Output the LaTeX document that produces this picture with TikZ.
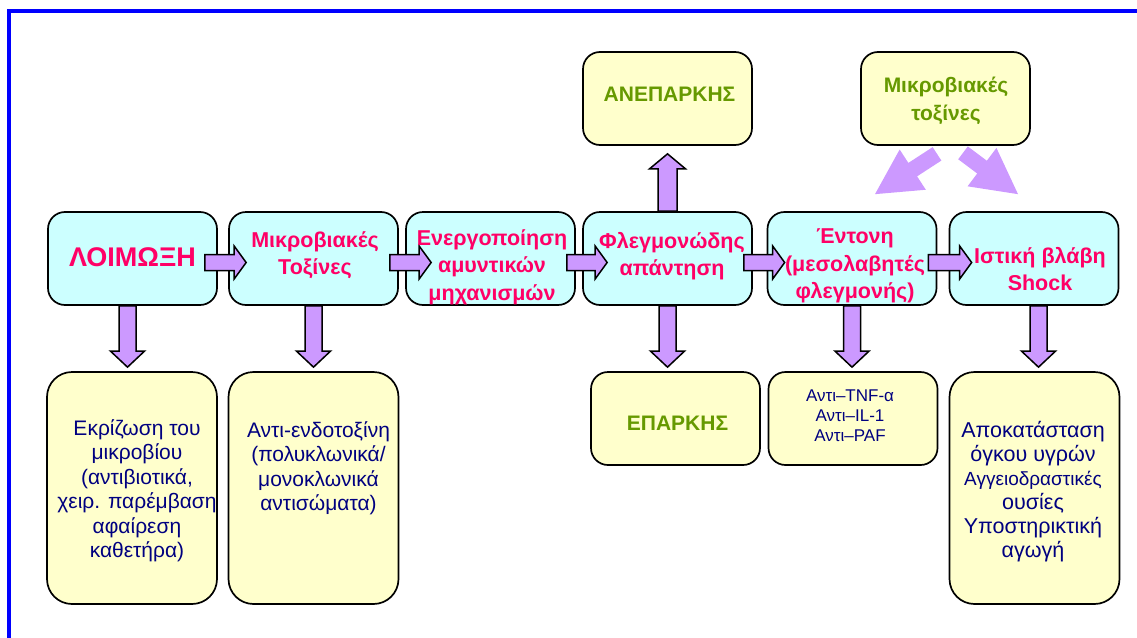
\documentclass[tikz,border=0pt]{standalone}
\usepackage{fontspec}
\setmainfont{Liberation Sans}
\usetikzlibrary{calc}
\definecolor{cyanf}{HTML}{CCFFFF}
\definecolor{yelf}{HTML}{FFFFCC}
\definecolor{pinkt}{HTML}{FF0066}
\definecolor{greent}{HTML}{669900}
\definecolor{navyt}{HTML}{000080}
\definecolor{arrf}{HTML}{CC99FF}
\definecolor{bord}{HTML}{0000FF}
% block arrow: #1 style, #2 start, #3 tip, #4 half shaft, #5 half head, #6 head length
\newcommand{\blockarrow}[6]{%
  \coordinate (bah) at ($(#3)!#6!(#2)$);
  \path[#1] ($(#2)!#4!90:(#3)$) -- ($(bah)!#4!90:(#3)$) -- ($(bah)!#5!90:(#3)$) -- (#3)
    -- ($(bah)!#5!-90:(#3)$) -- ($(bah)!#4!-90:(#3)$) -- ($(#2)!#4!-90:(#3)$) -- cycle;
}
\tikzset{
  box/.style={draw=black, line width=1.7pt, inner sep=0pt},
  cbox/.style={box, fill=cyanf, rounded corners=17pt, minimum width=169pt, minimum height=93pt},
  ybox/.style={box, fill=yelf, rounded corners=17pt, minimum width=169pt, minimum height=93pt},
  tallbox/.style={box, fill=yelf, rounded corners=25pt, minimum width=170pt, minimum height=232pt},
  pinktxt/.style={text=pinkt, align=center, inner sep=0pt, font=\fontsize{21.5}{27.5}\selectfont\bfseries},
  greentxt/.style={text=greent, align=center, inner sep=0pt, font=\fontsize{21}{28}\selectfont\bfseries},
  navytxt/.style={text=navyt, align=center, inner sep=0pt, font=\fontsize{21}{24.5}\selectfont},
  arrout/.style={draw=black, line width=1.5pt, fill=arrf, line join=miter},
  arrplain/.style={fill=arrf}
}
\begin{document}
\begin{tikzpicture}[x=1pt, y=-1pt]
\useasboundingbox (0,0) rectangle (1137,637);
% frame
\draw[bord, line width=4pt] (8.7,640) -- (8.7,10.5) -- (1140,10.5);

% top row (cyan)
\node[cbox] (b1) at (132.5,258.5) {};
\node[cbox] (b2) at (313.5,258.5) {};
\node[cbox] (b3) at (490.5,258.5) {};
\node[cbox] (b4) at (667.5,258.5) {};
\node[cbox] (b5) at (852,258.5) {};
\node[cbox] (b6) at (1034,258.5) {};
% upper yellow
\node[ybox] (an) at (667.5,98.5) {};
\node[ybox] (mt) at (945.5,98.5) {};
% lower yellow
\node[tallbox] (c1) at (132,488) {};
\node[tallbox] (c2) at (313.5,488) {};
\node[ybox] (c4) at (675.5,418.5) {};
\node[ybox] (c5) at (853,418.5) {};
\node[tallbox] (c6) at (1034.5,488) {};

% horizontal arrows
\coordinate (h1s) at ($(b1.east)+(-13pt,-4pt)$);
\coordinate (h1e) at ($(b2.west)+(18pt,-4pt)$);
\coordinate (h2s) at ($(b2.east)+(-9pt,-4pt)$);
\coordinate (h2e) at ($(b3.west)+(26pt,-4pt)$);
\coordinate (h3s) at ($(b3.east)+(-9pt,-4pt)$);
\coordinate (h3e) at ($(b4.west)+(25pt,-4pt)$);
\coordinate (h4s) at ($(b4.east)+(-9pt,-4pt)$);
\coordinate (h4e) at ($(b5.west)+(18pt,-4pt)$);
\coordinate (h5s) at ($(b5.east)+(-9pt,-4pt)$);
\coordinate (h5e) at ($(b6.west)+(23pt,-4pt)$);
\blockarrow{arrout}{h1s}{h1e}{8pt}{16.5pt}{12pt}
\blockarrow{arrout}{h2s}{h2e}{8pt}{16.5pt}{12pt}
\blockarrow{arrout}{h3s}{h3e}{8pt}{16.5pt}{12pt}
\blockarrow{arrout}{h4s}{h4e}{8pt}{16.5pt}{12pt}
\blockarrow{arrout}{h5s}{h5e}{8pt}{16.5pt}{12pt}

% down arrows
\coordinate (v1s) at ($(b1.south)+(-5pt,0pt)$);
\coordinate (v1e) at ($(b1.south |- c1.north)+(-5pt,4pt)$);
\coordinate (v2e) at ($(b2.south |- c2.north)+(0pt,4pt)$);
\coordinate (v4e) at ($(b4.south |- c4.north)+(0pt,4pt)$);
\coordinate (v5e) at ($(b5.south |- c5.north)+(0pt,4pt)$);
\coordinate (v6s) at ($(b6.south)+(4.5pt,0pt)$);
\coordinate (v6e) at ($(b6.south |- c6.north)+(4.5pt,4pt)$);
\blockarrow{arrout}{v1s}{v1e}{8.5pt}{17pt}{16pt}
\blockarrow{arrout}{b2.south}{v2e}{8.5pt}{17pt}{16pt}
\blockarrow{arrout}{b4.south}{v4e}{8.5pt}{17pt}{16pt}
\blockarrow{arrout}{b5.south}{v5e}{8.5pt}{17pt}{16pt}
\blockarrow{arrout}{v6s}{v6e}{8.5pt}{17pt}{16pt}

% up arrow
\coordinate (upe) at ($(an.south)+(0pt,-8pt)$);
\blockarrow{arrout}{b4.north}{upe}{9.5pt}{18pt}{15pt}

% diagonal arrows from toxins
\coordinate (d1s) at ($(mt.south)+(-8.5pt,-8pt)$);
\coordinate (d1e) at ($(b5.north)+(23pt,17pt)$);
\coordinate (d2s) at ($(mt.south)+(17.5pt,-7pt)$);
\coordinate (d2e) at ($(b6.north)+(-16pt,17pt)$);
\blockarrow{arrplain}{d1s}{d1e}{8pt}{24pt}{45pt}
\blockarrow{arrplain}{d2s}{d2e}{8pt}{24pt}{45pt}

% texts
\node[pinktxt, font=\fontsize{27}{30}\selectfont\bfseries] (t1) at (132.5,257) {ΛΟΙΜΩΞΗ};
\node[pinktxt] (t2) at (315,255) {Μικροβιακές\\Τοξίνες};
\node[pinktxt] (t3) at (492,267) {Ενεργοποίηση\\αμυντικών\\μηχανισμών};
\node[pinktxt] (t4) at (672,256) {Φλεγμονώδης\\απάντηση};
\node[pinktxt] (t5) at (855,266) {Έντονη\\(μεσολαβητές\\φλεγμονής)};
\node[pinktxt] (t6) at (1040,269) {Ιστική βλάβη\\Shock};

\node[greentxt] (ta) at (669.5,94) {ΑΝΕΠΑΡΚΗΣ};
\node[greentxt] (tm) at (946,101) {Μικροβιακές\\τοξίνες};
\node[greentxt] (tc4) at (677.5,423.5) {ΕΠΑΡΚΗΣ};

\node[navytxt] (tc1) at (137,491) {Εκρίζωση του\\μικροβίου\\(αντιβιοτικά,\\χειρ. παρέμβαση\\αφαίρεση\\καθετήρα)};
\node[navytxt] (tc2) at (318.5,468.5) {Αντι-ενδοτοξίνη\\(πολυκλωνικά/\\μονοκλωνικά\\αντισώματα)};
\node[navytxt, font=\fontsize{17}{20}\selectfont] (tc5) at (850,416) {Αντι–TNF-α\\Αντι–IL-1\\Αντι–PAF};
\node[navytxt, font=\fontsize{21.5}{24}\selectfont] (tc6) at (1033,492) {Αποκατάσταση\\όγκου υγρών\\{\fontsize{19}{23}\selectfont Αγγειοδραστικές}\\ουσίες\\Υποστηρικτική\\αγωγή};
\end{tikzpicture}
\end{document}
